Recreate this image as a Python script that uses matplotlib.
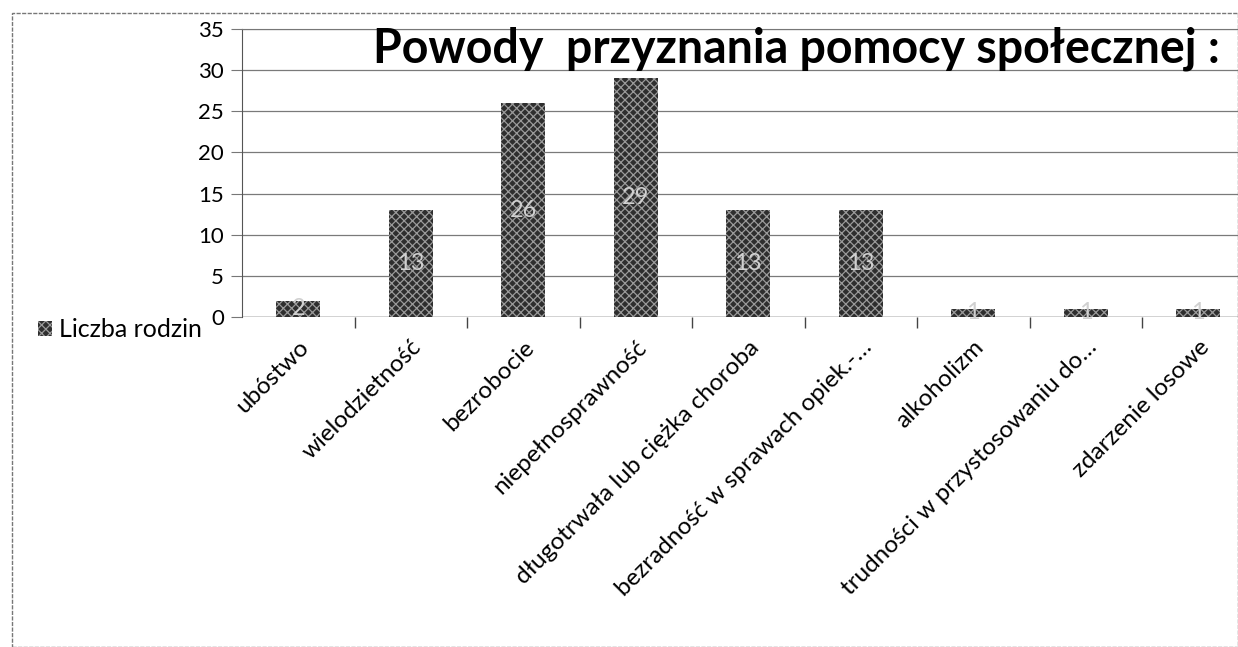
import matplotlib
matplotlib.use("Agg")
import matplotlib.pyplot as plt
import matplotlib.transforms as mtransforms
from matplotlib.patches import Rectangle, Patch
import numpy as np

categories = ["ubóstwo", "wielodzietność", "bezrobocie", "niepełnosprawność",
              "długotrwała lub ciężka choroba", "bezradność w sprawach opiek.-…",
              "alkoholizm", "trudności w przystosowaniu do…", "zdarzenie losowe"]
values = [2, 13, 26, 29, 13, 13, 1, 1, 1]
yticks = [0, 5, 10, 15, 20, 25, 30, 35]
series_name = "Liczba rodzin"
title = "Powody  przyznania pomocy społecznej :"

plt.rcParams['font.family'] = ['Lato', 'DejaVu Sans']
plt.rcParams['hatch.linewidth'] = 0.9

W, H = 1238, 647
fig = plt.figure(figsize=(W/100, H/100), dpi=100)
left = 242 / W
bottom = 1 - 317 / H
top = 1 - 29 / H
ax = fig.add_axes([left, bottom, 1 - left, top - bottom])

x = np.arange(len(categories))
cat_w = 112.5
right_lim = -0.5 + (W - 242) / cat_w
bar_face = '#2e2e2e'
bar_hatch = '#9a9a9a'
ax.bar(x, values, width=0.39, color=bar_face, edgecolor=bar_hatch,
       hatch='xxxx', linewidth=0, zorder=3)
ax.set_xlim(-0.5, right_lim)
ax.set_ylim(0, 35)
ax.set_yticks(yticks)
ax.tick_params(axis='y', labelsize=16, length=8, color='#777', pad=5)
ax.yaxis.grid(True, color='#7a7a7a', linewidth=0.9, zorder=0)
ax.set_axisbelow(True)

ax.set_xticks(x)
ax.set_xticklabels(categories, rotation=45, ha='right', rotation_mode='anchor',
                   fontsize=17.5)
ax.tick_params(axis='x', length=0, pad=14)
ax.set_xticks(np.arange(0.5, len(categories) - 0.5, 1), minor=True)
ax.tick_params(axis='x', which='minor', length=8, color='#444', width=1)

for s in ['right', 'bottom']:
    ax.spines[s].set_visible(False)
ax.spines['left'].set_color('#555')
ax.spines['top'].set_color('#777')
ax.axhline(0, color='#666', linewidth=1, zorder=2)

for xi, v in zip(x, values):
    ax.text(xi, v / 2, str(v), ha='center', va='center', fontsize=17,
            color='#d0d0d0', zorder=4)

blend = mtransforms.blended_transform_factory(ax.transAxes, ax.transData)
ax.text(0.557, 30.9, title, transform=blend, ha='center', va='baseline',
        fontsize=33.5, fontweight='bold', color='black', zorder=5)

fig.legend(handles=[Patch(facecolor=bar_face, edgecolor=bar_hatch, hatch='xxxx', linewidth=0)],
           labels=[series_name], loc='center left',
           bbox_to_anchor=(28 / W, 1 - 330 / H), frameon=False, fontsize=18,
           handlelength=0.55, handleheight=0.55, handletextpad=0.3, borderaxespad=0)

fig.patches.append(Rectangle((12 / W, 0), 1 - 12 / W, 1 - 13 / H,
                             transform=fig.transFigure, fill=False,
                             edgecolor='#777', linewidth=1, linestyle=(0, (3, 1))))

fig.savefig("out.png", dpi=100)
